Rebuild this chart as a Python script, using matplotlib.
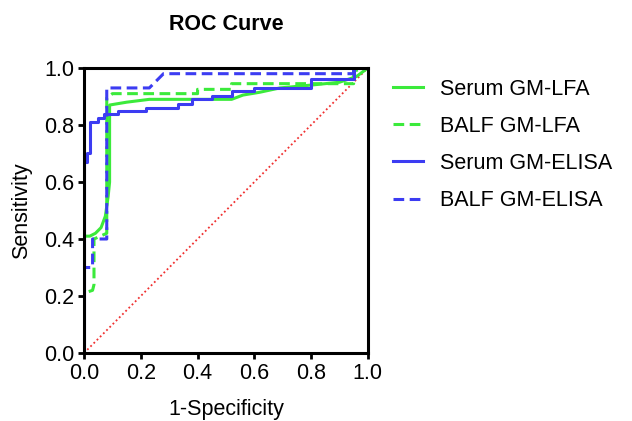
import matplotlib
matplotlib.use("Agg")
import matplotlib.pyplot as plt

plt.rcParams["font.family"] = ["Liberation Sans", "DejaVu Sans"]

# ROC curve points (1-specificity, sensitivity)
serum_lfa_x = [0, 0, 0.02, 0.04, 0.06, 0.075, 0.085, 0.09, 0.09, 0.15, 0.23, 0.40, 0.52, 0.56, 0.62, 0.69, 0.80, 0.90, 0.96, 1.0]
serum_lfa_y = [0, 0.41, 0.41, 0.42, 0.44, 0.48, 0.55, 0.60, 0.87, 0.88, 0.89, 0.89, 0.89, 0.905, 0.915, 0.93, 0.94, 0.95, 0.97, 1.0]

balf_lfa_x = [0, 0, 0.03, 0.035, 0.035, 0.08, 0.08, 0.10, 0.40, 0.40, 0.52, 0.52, 0.95, 0.95, 1.0]
balf_lfa_y = [0, 0.21, 0.22, 0.24, 0.40, 0.42, 0.895, 0.91, 0.91, 0.925, 0.925, 0.945, 0.945, 0.99, 1.0]

serum_elisa_x = [0, 0, 0.01, 0.01, 0.02, 0.02, 0.05, 0.05, 0.07, 0.07, 0.12, 0.12, 0.22, 0.22, 0.33, 0.33, 0.38, 0.38, 0.45, 0.45, 0.52, 0.52, 0.60, 0.60, 0.80, 0.80, 0.95, 0.95, 1.0]
serum_elisa_y = [0, 0.67, 0.67, 0.70, 0.70, 0.81, 0.81, 0.825, 0.825, 0.84, 0.84, 0.85, 0.85, 0.86, 0.86, 0.875, 0.875, 0.89, 0.89, 0.90, 0.90, 0.92, 0.92, 0.93, 0.93, 0.96, 0.96, 1.0, 1.0]

balf_elisa_x = [0, 0, 0.03, 0.03, 0.08, 0.08, 0.23, 0.28, 0.95, 0.95, 1.0]
balf_elisa_y = [0, 0.30, 0.30, 0.40, 0.40, 0.93, 0.93, 0.98, 0.98, 1.0, 1.0]

labels = ["Serum GM-LFA", "BALF GM-LFA", "Serum GM-ELISA", "BALF GM-ELISA"]

green = "#3BEA3B"
blue = "#3C3CF2"
fs = 15.5

fig = plt.figure(figsize=(6.32, 4.21), dpi=100)
ax = fig.add_axes([0.133, 0.1615, 0.449, 0.677])

ax.plot([0, 1], [0, 1], color="#F03030", linestyle=(0, (1, 1.5)), linewidth=1.3)
ax.plot(serum_lfa_x, serum_lfa_y, color=green, linewidth=2.2, label=labels[0])
ax.plot(balf_lfa_x, balf_lfa_y, color=green, linewidth=2.2, linestyle=(0, (3.5, 1.8)), label=labels[1])
ax.plot(serum_elisa_x, serum_elisa_y, color=blue, linewidth=2.2, label=labels[2])
ax.plot(balf_elisa_x, balf_elisa_y, color=blue, linewidth=2.2, linestyle=(0, (3.5, 1.8)), label=labels[3])

ax.set_xlim(0, 1)
ax.set_ylim(0, 1)
ax.set_xticks([0, 0.2, 0.4, 0.6, 0.8, 1.0])
ax.set_yticks([0, 0.2, 0.4, 0.6, 0.8, 1.0])
ax.set_xticklabels(["0.0", "0.2", "0.4", "0.6", "0.8", "1.0"])
ax.set_yticklabels(["0.0", "0.2", "0.4", "0.6", "0.8", "1.0"])
ax.tick_params(labelsize=fs, width=2, length=4, direction="out", pad=3)
for s in ax.spines.values():
    s.set_linewidth(2.2)

ax.set_title("ROC Curve", fontsize=fs, fontweight="bold", pad=27)
ax.set_xlabel("1-Specificity", fontsize=fs, labelpad=11)
ax.set_ylabel("Sensitivity", fontsize=fs, labelpad=9)

fig.legend(loc="upper left", bbox_to_anchor=(0.622, 0.813), frameon=False,
           fontsize=fs, handlelength=1.4, labelspacing=0.75, handletextpad=0.8,
           borderpad=0, borderaxespad=0)

fig.savefig("out.png", dpi=100)
